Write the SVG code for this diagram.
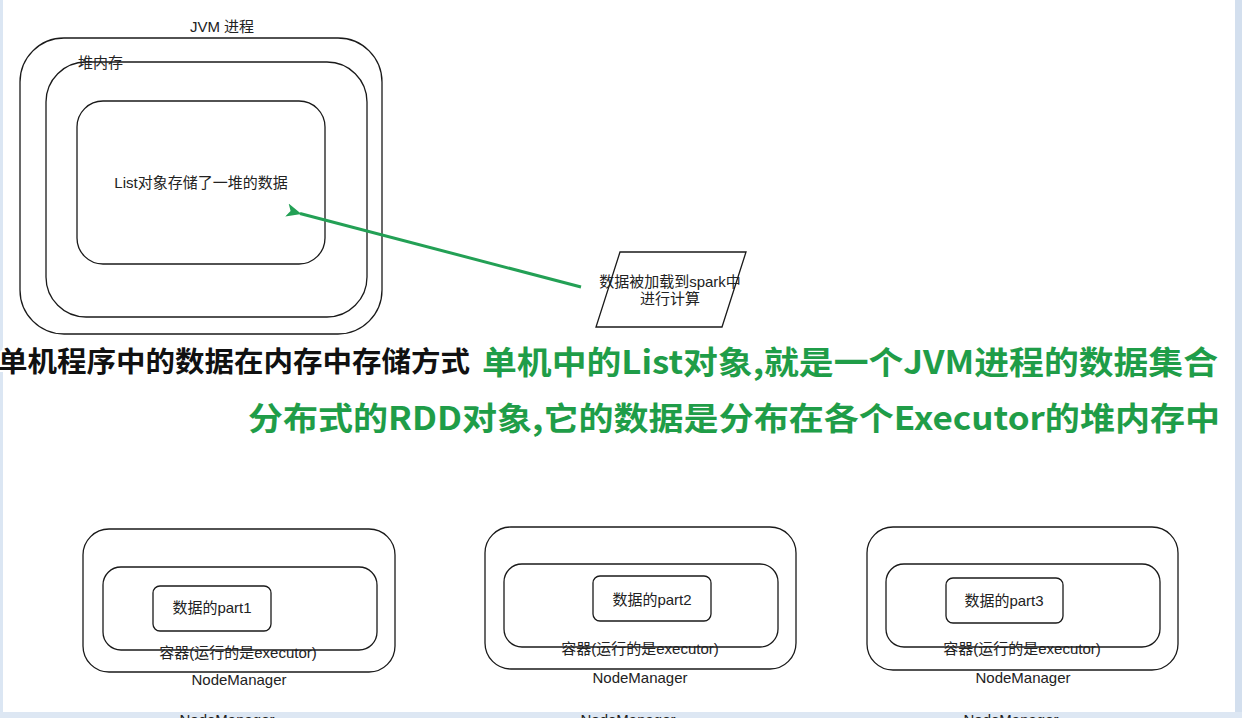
<svg xmlns="http://www.w3.org/2000/svg" width="1242" height="718" viewBox="0 0 1242 718">
<defs>
<style>
.box{fill:none;stroke:#1a1a1a;stroke-width:1.3}
.lbl{font-family:"Liberation Sans","Noto Sans CJK SC",sans-serif;font-size:15px;fill:#222}
.mid{text-anchor:middle}
.cap{font-family:"Noto Sans CJK SC",sans-serif;font-weight:bold;paint-order:stroke;stroke-linejoin:round}
.green{fill:#1f9d48;stroke:#ffffff;stroke-width:5}
.black{fill:#111;stroke:#ffffff;stroke-width:4}
.conn{stroke:#23a055;stroke-width:3;fill:none}
</style>
<marker id="arr" viewBox="0 0 10 10" refX="1" refY="5" markerWidth="5" markerHeight="5" orient="auto" markerUnits="strokeWidth">
<path d="M10,0.5 L0,5 L10,9.5 L7.5,5 Z" fill="#23a055"/>
</marker>
</defs>
<rect x="0" y="0" width="1242" height="718" fill="#ffffff"/>
<rect x="0" y="0" width="3" height="712" fill="#dbe6f3"/>
<rect x="1235" y="0" width="7" height="718" fill="#d3dfee"/>

<g id="jvm">
<rect class="box" x="20" y="38" width="362" height="296" rx="44"/>
<text class="lbl mid" x="222" y="32">JVM 进程</text>
</g>
<g id="heap">
<rect class="box" x="46" y="62" width="321" height="255" rx="40"/>
<text class="lbl" x="78" y="68">堆内存</text>
</g>
<g id="list">
<rect class="box" x="77" y="101" width="248" height="163" rx="26"/>
<text class="lbl mid" x="201" y="188">List对象存储了一堆的数据</text>
</g>
<g id="load">
<polygon class="box" points="620,252 746,252 722,327 596,327"/>
<text class="lbl mid" x="670" y="287">数据被加载到spark中</text>
<text class="lbl mid" x="670" y="304">进行计算</text>
</g>

<g id="connectors">
<line class="conn" x1="581" y1="287" x2="300" y2="213.5" marker-end="url(#arr)"/>
</g>

<g id="captions">
<text class="cap black" x="-2" y="372" font-size="28" textLength="472" lengthAdjust="spacingAndGlyphs">单机程序中的数据在内存中存储方式</text>
<text class="cap green" x="482" y="374" font-size="32" textLength="736" lengthAdjust="spacingAndGlyphs">单机中的List对象,就是一个JVM进程的数据集合</text>
<text class="cap green" x="248" y="430" font-size="32" textLength="972" lengthAdjust="spacingAndGlyphs">分布式的RDD对象,它的数据是分布在各个Executor的堆内存中</text>
</g>

<g id="node1">
<rect class="box" x="83" y="529" width="312" height="143" rx="26"/>
<rect class="box" x="103" y="567" width="274" height="83" rx="18"/>
<rect class="box" x="153" y="586" width="118" height="45" rx="7"/>
<text class="lbl mid" x="212" y="613">数据的part1</text>
<text class="lbl mid" x="238" y="658">容器(运行的是executor)</text>
<text class="lbl mid" x="239" y="685">NodeManager</text>
</g>
<g id="node2">
<rect class="box" x="485" y="527" width="311" height="142" rx="26"/>
<rect class="box" x="504" y="564" width="274" height="83" rx="18"/>
<rect class="box" x="593" y="576" width="118" height="45" rx="7"/>
<text class="lbl mid" x="652" y="605">数据的part2</text>
<text class="lbl mid" x="640" y="654">容器(运行的是executor)</text>
<text class="lbl mid" x="640" y="683">NodeManager</text>
</g>
<g id="node3">
<rect class="box" x="867" y="527" width="311" height="143" rx="26"/>
<rect class="box" x="886" y="564" width="274" height="83" rx="18"/>
<rect class="box" x="946" y="578" width="117" height="45" rx="7"/>
<text class="lbl mid" x="1004" y="606">数据的part3</text>
<text class="lbl mid" x="1022" y="654">容器(运行的是executor)</text>
<text class="lbl mid" x="1023" y="683">NodeManager</text>
</g>

<g id="bottom-edge">
<rect x="0" y="712" width="1242" height="6" fill="#dde7f3"/>
<text class="lbl mid" x="227" y="725">NodeManager</text>
<text class="lbl mid" x="628" y="725">NodeManager</text>
<text class="lbl mid" x="1011" y="725">NodeManager</text>
</g>
</svg>
